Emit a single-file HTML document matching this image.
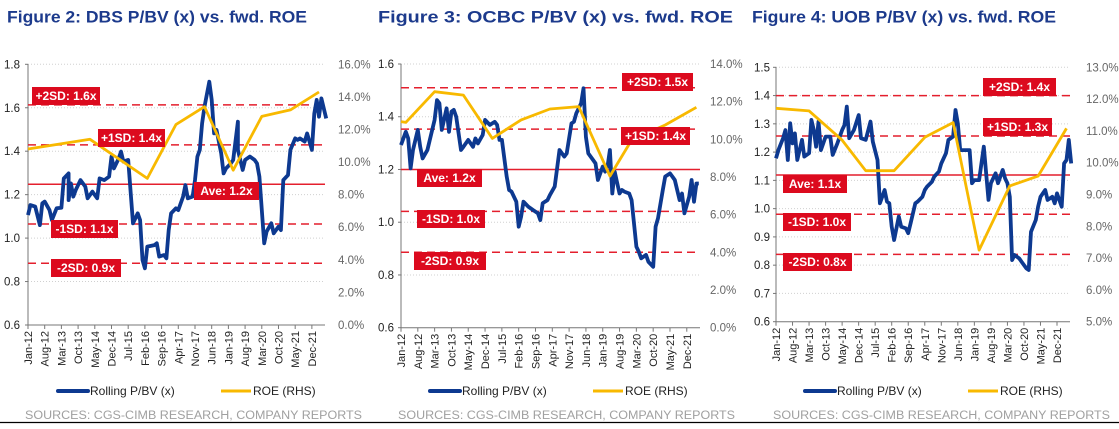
<!DOCTYPE html>
<html><head><meta charset="utf-8">
<style>
html,body{margin:0;padding:0;background:#fff;}
body{width:1119px;height:429px;position:relative;overflow:hidden;font-family:"Liberation Sans",Arial,sans-serif;}
svg{position:absolute;left:0;top:0;}
</style></head>
<body>
<svg id="root" width="1119" height="429" viewBox="0 0 1119 429"></svg>
<script>
// ---------- shared ----------
const xTickLabels = ["Jan-12","Aug-12","Mar-13","Oct-13","May-14","Dec-14","Jul-15","Feb-16","Sep-16","Apr-17","Nov-17","Jun-18","Jan-19","Aug-19","Mar-20","Oct-20","May-21","Dec-21"];
const xTickMonths = [0,7,14,21,28,35,42,49,56,63,70,77,84,91,98,105,112,119];

// ---------- DBS ----------
const dbsMonths = [0,1,3,5,6,7,9,10,12,14,15,17,17,18,19,20,22,24,25,27,29,30,32,34,35,36,38,39,40,42,44,46,47,48,49,50,53,54,55,57,58,59,60,62,63,65,66,67,69,70,71,72,73,74,76,77,78,79,81,82,83,85,86,88,88,90,91,93,95,96,97,99,100,102,103,105,106,107,109,110,112,113,114,116,117,119,120,121,122,123,125];
const dbsPbv = [1.106,1.152,1.145,1.060,1.160,1.168,1.129,1.083,1.137,1.140,1.275,1.298,1.175,1.252,1.191,1.221,1.267,1.237,1.183,1.214,1.183,1.275,1.267,1.283,1.375,1.321,1.367,1.398,1.352,1.360,1.068,1.114,1.083,0.899,0.861,0.961,0.968,0.976,0.915,0.922,0.907,1.037,1.114,1.137,1.129,1.191,1.244,1.183,1.191,1.267,1.375,1.406,1.528,1.605,1.720,1.636,1.482,1.498,1.390,1.298,1.321,1.344,1.360,1.536,1.406,1.314,1.360,1.375,1.360,1.344,1.283,0.976,1.030,1.068,1.022,1.053,1.037,1.267,1.290,1.406,1.459,1.452,1.459,1.444,1.482,1.406,1.574,1.636,1.559,1.643,1.551];
const dbsRoeMonths = [0,26,50,62,74,86,98,110,122];
const dbsRoe = [10.8,11.4,9.0,12.3,13.4,9.5,12.8,13.2,14.3];
const dbsBands = [1.613,1.429,1.248,1.065,0.884];
const dbsBandLabels = ["+2SD: 1.6x","+1SD: 1.4x","Ave: 1.2x","-1SD: 1.1x","-2SD: 0.9x"];
const dbsLeftTicks = [0.6,0.8,1.0,1.2,1.4,1.6,1.8];
const dbsRightTicks = [0,2,4,6,8,10,12,14,16];

// ---------- OCBC ----------
const ocbcMonths = [0,2,3,4,5,7,8,9,11,12,14,15,16,17,19,20,21,22,23,25,26,28,30,31,32,34,35,37,39,40,41,42,44,45,46,48,49,50,51,53,55,57,58,59,61,62,64,66,68,69,71,72,73,75,76,77,78,80,81,82,84,85,86,87,88,89,91,92,93,95,96,98,99,100,102,103,105,106,107,109,110,112,113,114,116,117,118,120,121,122,123,124];
const ocbcPbv = [1.293,1.343,1.318,1.204,1.274,1.350,1.286,1.242,1.274,1.312,1.388,1.463,1.451,1.350,1.432,1.343,1.419,1.426,1.400,1.274,1.286,1.312,1.286,1.318,1.299,1.331,1.388,1.369,1.381,1.369,1.312,1.312,1.173,1.122,1.116,1.078,0.983,1.021,1.078,1.059,1.046,1.034,1.008,1.072,1.084,1.103,1.135,1.274,1.249,1.261,1.375,1.381,1.413,1.451,1.508,1.324,1.261,1.236,1.223,1.160,1.211,1.192,1.211,1.274,1.109,1.192,1.109,1.122,1.116,1.109,1.084,0.907,0.888,0.863,0.876,0.850,0.831,0.983,1.015,1.122,1.173,1.185,1.173,1.160,1.084,1.109,1.034,1.097,1.160,1.078,1.147,1.147];
const ocbcRoeMonths = [0,2,14,26,38,50,62,74,87,96,110,123];
const ocbcRoe = [10.94,10.9,12.53,12.35,10.05,11.03,11.61,11.74,8.05,9.96,10.76,11.70];
const ocbcBands = [1.51,1.353,1.20,1.041,0.886];
const ocbcBandLabels = ["+2SD: 1.5x","+1SD: 1.4x","Ave: 1.2x","-1SD: 1.0x","-2SD: 0.9x"];
const ocbcLeftTicks = [0.6,0.8,1.0,1.2,1.4,1.6];
const ocbcRightTicks = [0,2,4,6,8,10,12,14];

// ---------- UOB ----------
const uobMonths = [0,1,3,4,5,6,7,8,9,11,12,14,15,16,17,18,19,21,23,24,26,28,29,30,31,33,35,36,38,40,41,43,44,46,47,48,49,50,52,53,55,56,57,59,60,62,63,64,66,67,69,70,72,73,75,76,77,78,80,82,83,84,86,88,90,91,93,94,96,97,98,99,100,101,103,104,106,107,108,110,111,112,114,115,117,118,119,121,122,123,124,125];
const uobPbv = [1.178,1.207,1.249,1.278,1.172,1.302,1.231,1.266,1.172,1.243,1.184,1.196,1.314,1.278,1.219,1.308,1.207,1.255,1.255,1.190,1.231,1.278,1.296,1.361,1.249,1.278,1.331,1.249,1.243,1.308,1.237,1.172,1.019,1.066,1.025,1.019,0.936,0.889,0.972,0.936,0.930,0.913,0.948,1.019,1.025,1.042,1.066,1.078,1.095,1.113,1.131,1.160,1.196,1.243,1.255,1.349,1.302,1.207,1.207,1.207,1.090,1.101,1.101,1.219,1.031,1.090,1.125,1.090,1.137,1.107,1.090,1.042,0.818,0.836,0.824,0.812,0.789,0.783,0.918,0.960,1.007,1.042,1.066,1.031,1.042,1.019,1.054,1.007,1.160,1.172,1.243,1.160];
const uobRoeMonths = [0,14,28,38,50,63,75,86,99,111,123];
const uobRoe = [11.71,11.63,10.71,9.75,9.75,10.8,11.26,7.25,9.27,9.58,11.08];
const uobBands = [1.40,1.257,1.119,0.98,0.838];
const uobBandLabels = ["+2SD: 1.4x","+1SD: 1.3x","Ave: 1.1x","-1SD: 1.0x","-2SD: 0.8x"];
const uobLeftTicks = [0.6,0.7,0.8,0.9,1.0,1.1,1.2,1.3,1.4,1.5];
const uobRightTicks = [5,6,7,8,9,10,11,12,13];

const NS = "http://www.w3.org/2000/svg";
const root = document.getElementById('root');
function mk(tag, attrs, parent, text){
  const e = document.createElementNS(NS, tag);
  for (const k in attrs) e.setAttribute(k, attrs[k]);
  if (text !== undefined) e.textContent = text;
  (parent||root).appendChild(e);
  return e;
}

function drawChart(c){
  const g = mk('g', {});
  
  
  const xS = m => c.x0 + (c.x1 - c.x0) * m / 124.5;
  const yL = v => c.yb - (v - c.lmin) / (c.lmax - c.lmin) * (c.yb - c.yt);
  const yR = v => c.yb - (v - c.rmin) / (c.rmax - c.rmin) * (c.yb - c.yt);

  const t = mk('text', {x:c.titleX, y:22.5, 'font-size':'17', 'font-weight':'bold', fill:'#1c3a8c', textLength:c.titleW, lengthAdjust:'spacingAndGlyphs'}, g, c.title);
  
  

  c.leftTicks.forEach(v => {
    const y = yL(v);
    if (Math.abs(v - c.lmin) > 1e-6) {
      const gl = mk('line', {x1:c.x0, x2:c.x1, y1:y, y2:y, stroke:'#d0d0d0', 'stroke-width':1, 'stroke-dasharray':'1,2'}, g);
      
      
    }
    mk('line', {x1:c.x0-3, x2:c.x0, y1:y, y2:y, stroke:'#777', 'stroke-width':1}, g);
    const lt = mk('text', {x:c.leftLabX, y:y+4, 'font-size':'11.5', fill:'#222', 'text-anchor':'end'}, g, v.toFixed(1));
    
    
  });
  c.rightTicks.forEach(v => {
    const rt = mk('text', {x:c.rightLabX, y:yR(v)+4, 'font-size':'11.5', fill:'#666'}, g, v.toFixed(1) + '%');
    
    
  });
  const ay = mk('line', {x1:c.x0, x2:c.x0, y1:c.yt, y2:c.yb, stroke:'#777', 'stroke-width':1}, g);
  
  
  const ax = mk('line', {x1:c.x0, x2:c.x1, y1:c.yb, y2:c.yb, stroke:'#777', 'stroke-width':1}, g);
  
  
  xTickMonths.forEach((m, i) => {
    const x = xS(m);
    mk('line', {x1:x, x2:x, y1:c.yb, y2:c.yb+4, stroke:'#777', 'stroke-width':1}, g);
    const xl = mk('text', {x:0, y:0, 'font-size':'11', fill:'#222', 'text-anchor':'end', transform:'translate(' + (x+4) + ',' + (c.yb+6) + ') rotate(-90)'}, g, xTickLabels[i]);
    
    
  });
  c.bands.forEach((v, i) => {
    const y = yL(v);
    const bl = mk('line', {x1:c.x0, x2:c.x1, y1:y, y2:y, stroke:'#e41f2d', 'stroke-width':1.5}, g);
    if (i !== 2) bl.setAttribute('stroke-dasharray', '8,5');
    
    
  });
  const pts = c.months.map((m, i) => xS(m).toFixed(1) + ',' + yL(c.pbv[i]).toFixed(1)).join(' ');
  const pl = mk('polyline', {points:pts, fill:'none', stroke:'#0d3990', 'stroke-width':3.8, 'stroke-linejoin':'round'}, g);
  
  
  const rpts = c.roeMonths.map((m, i) => xS(m).toFixed(1) + ',' + yR(c.roe[i]).toFixed(1)).join(' ');
  const rl = mk('polyline', {points:rpts, fill:'none', stroke:'#f8b900', 'stroke-width':2.8, 'stroke-linejoin':'round'}, g);
  
  
  c.bandBoxes.forEach((b, i) => {
    const bg = mk('g', {}, g);
    
    
    mk('rect', {x:b[0], y:b[1], width:b[2], height:18, fill:'#dc0a1e'}, bg);
    mk('text', {x:b[0]+b[2]/2, y:b[1]+13, 'font-size':'12', 'font-weight':'bold', fill:'#fff', 'text-anchor':'middle'}, bg, c.bandLabels[i]);
  });
  const lg = mk('g', {}, g);
  
  
  mk('line', {x1:c.legX, x2:c.legX+30, y1:391, y2:391, stroke:'#0d3990', 'stroke-width':4, 'stroke-linecap':'round'}, lg);
  mk('text', {x:c.legX+32, y:395, 'font-size':'12', fill:'#222'}, lg, 'Rolling P/BV (x)');
  mk('line', {x1:c.legX+163, x2:c.legX+193, y1:391, y2:391, stroke:'#f8b900', 'stroke-width':3}, lg);
  mk('text', {x:c.legX+195, y:395, 'font-size':'12', fill:'#222'}, lg, 'ROE (RHS)');
  const src = mk('text', {x:c.srcX, y:419, 'font-size':'12.3', fill:'#a0a0a0', textLength:337, lengthAdjust:'spacingAndGlyphs'}, g, 'SOURCES: CGS-CIMB RESEARCH, COMPANY REPORTS');
  
  
}

drawChart({id:'dbs', title:'Figure 2: DBS P/BV (x) vs. fwd. ROE', titleX:7, titleW:300,
  x0:28, x1:325, yt:64.3, yb:325, lmin:0.6, lmax:1.8, rmin:0, rmax:16,
  leftLabX:20, rightLabX:338, leftTicks:dbsLeftTicks, rightTicks:dbsRightTicks,
  months:dbsMonths, pbv:dbsPbv, roeMonths:dbsRoeMonths, roe:dbsRoe,
  bands:dbsBands, bandLabels:dbsBandLabels,
  bandBoxes:[[32,87,68],[98,129,67],[194,182,65],[51,220,67],[51,259,70]],
  legX:58, srcX:25});
drawChart({id:'ocbc', title:'Figure 3: OCBC P/BV (x) vs. fwd. ROE', titleX:378, titleW:355,
  x0:401, x1:700, yt:64, yb:327.7, lmin:0.6, lmax:1.6, rmin:0, rmax:14,
  leftLabX:394, rightLabX:710, leftTicks:ocbcLeftTicks, rightTicks:ocbcRightTicks,
  months:ocbcMonths, pbv:ocbcPbv, roeMonths:ocbcRoeMonths, roe:ocbcRoe,
  bands:ocbcBands, bandLabels:ocbcBandLabels,
  bandBoxes:[[622,73,71],[621,127,69],[417,169,65],[417,210,68],[414,252,72]],
  legX:430, srcX:398});
drawChart({id:'uob', title:'Figure 4: UOB P/BV (x) vs. fwd. ROE', titleX:752, titleW:304,
  x0:776, x1:1070, yt:67.3, yb:321.7, lmin:0.6, lmax:1.5, rmin:5, rmax:13,
  leftLabX:770, rightLabX:1086, leftTicks:uobLeftTicks, rightTicks:uobRightTicks,
  months:uobMonths, pbv:uobPbv, roeMonths:uobRoeMonths, roe:uobRoe,
  bands:uobBands, bandLabels:uobBandLabels,
  bandBoxes:[[983,78,73],[983,118,69],[783,175,64],[783,213,68],[783,253,69]],
  legX:805, srcX:773});

const bl = mk('line', {x1:0, x2:1119, y1:422.5, y2:422.5, stroke:'#000', 'stroke-width':1.3});


</script>
</body></html>
